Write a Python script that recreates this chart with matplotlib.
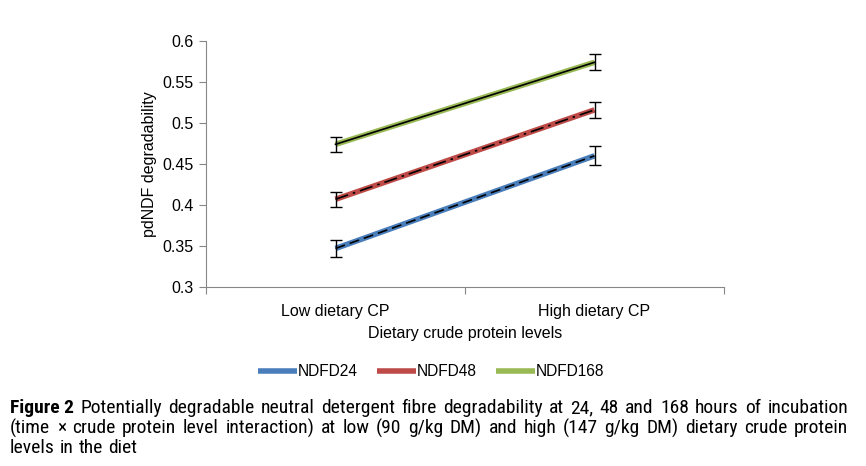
import matplotlib.pyplot as plt
from matplotlib import font_manager

categories = ["Low dietary CP", "High dietary CP"]
series_names = ["NDFD24", "NDFD48", "NDFD168"]
ndfd24 = [0.347, 0.460]
ndfd48 = [0.407, 0.516]
ndfd168 = [0.474, 0.574]
err24 = [0.010, 0.0115]
err48 = [0.009, 0.0098]
err168 = [0.009, 0.0098]

colors = ["#4a7ebb", "#be4b48", "#98b954"]
black_styles = [(0, (6, 3)), (0, (8, 3, 1.5, 3)), "-"]

caption_lines = [
    "Potentially degradable neutral detergent fibre degradability at 24, 48 and 168 hours of incubation",
    "(time \u00d7 crude protein level interaction) at low (90 g/kg DM) and high (147 g/kg DM) dietary crude protein",
    "levels in the diet",
]

fonts = font_manager.fontManager.ttflist
narrow = "Liberation Sans"
for cand in ["Liberation Sans Narrow", "Arial Narrow", "Roboto Condensed", "Archivo Narrow",
             "PT Sans Narrow", "Open Sans Condensed"]:
    if any(f.name == cand and f.weight in (700, "bold") for f in fonts):
        narrow = cand
        break
plt.rcParams["font.family"] = ["Liberation Sans", "DejaVu Sans"]

fig = plt.figure(figsize=(8.66, 4.66), dpi=100)
W, H = 866, 466
ax = fig.add_axes([206 / W, 1 - 287 / H, (724 - 206) / W, (287 - 41) / H])

x = [0.5, 1.5]
for vals, errs, c, ls, name in zip([ndfd24, ndfd48, ndfd168], [err24, err48, err168],
                                   colors, black_styles, series_names):
    ax.plot(x, vals, color=c, lw=4, solid_capstyle="butt", label=name, zorder=2)
    ax.plot(x, vals, color="black", lw=1.2, linestyle=ls, zorder=3)
    ax.errorbar(x, vals, yerr=errs, fmt="none", ecolor="black", elinewidth=1,
                capsize=4, capthick=1, zorder=4)

ax.set_xlim(0, 2)
ax.set_ylim(0.3, 0.6)
ax.set_yticks([0.3, 0.35, 0.4, 0.45, 0.5, 0.55, 0.6])
ax.set_yticklabels(["0.3", "0.35", "0.4", "0.45", "0.5", "0.55", "0.6"])
ax.set_xticks([0, 1, 2])
ax.set_xticklabels([])
ax.set_xticks(x, minor=True)
ax.set_xticklabels(categories, minor=True)
ax.tick_params(axis="x", which="minor", length=0, pad=12, labelsize=11.5)
ax.tick_params(axis="x", which="major", length=5, color="#878787", direction="out")
ax.tick_params(axis="y", length=5, color="#878787", labelsize=11.5, pad=4)
for s in ["top", "right"]:
    ax.spines[s].set_visible(False)
for s in ["left", "bottom"]:
    ax.spines[s].set_color("#878787")
ax.set_ylabel("pdNDF degradability", fontsize=11.5, labelpad=4)
ax.set_xlabel("Dietary crude protein levels", fontsize=11.5, labelpad=5)

fig.legend(loc="center", bbox_to_anchor=(431 / W, 1 - 372 / H), ncol=3, frameon=False,
           fontsize=11.2, handlelength=2.5, handletextpad=0.05, columnspacing=1.25)

# caption, justified on first two lines
renderer = fig.canvas.get_renderer()
x0, x1 = 10 / W, 848 / W

# choose a size where line 1 fits with roughly normal spaces
probe = fig.text(0, 0, "Figure 2 " + caption_lines[0], fontsize=10, family=narrow)
nat = probe.get_window_extent(renderer).width
probe.remove()
fs = max(9.5, min(14, 10 * 825 / nat))

ys = [1 - 408 / H, 1 - 428 / H, 1 - 448 / H]
for i, line in enumerate(caption_lines):
    words = line.split(" ")
    texts = []
    if i == 0:
        texts.append(fig.text(0, ys[i], "Figure 2", fontsize=fs, fontweight="bold",
                              family=narrow, va="center"))
    for w in words:
        texts.append(fig.text(0, ys[i], w, fontsize=fs, family=narrow, va="center"))
    widths = [t.get_window_extent(renderer).width / W for t in texts]
    if i < 2:
        gap = (x1 - x0 - sum(widths)) / (len(texts) - 1)
    else:
        gap = 0.25 * fs * 1.389 / W
    pos = x0
    for t, w in zip(texts, widths):
        t.set_x(pos)
        pos += w + gap

fig.savefig("out.png", dpi=100)
